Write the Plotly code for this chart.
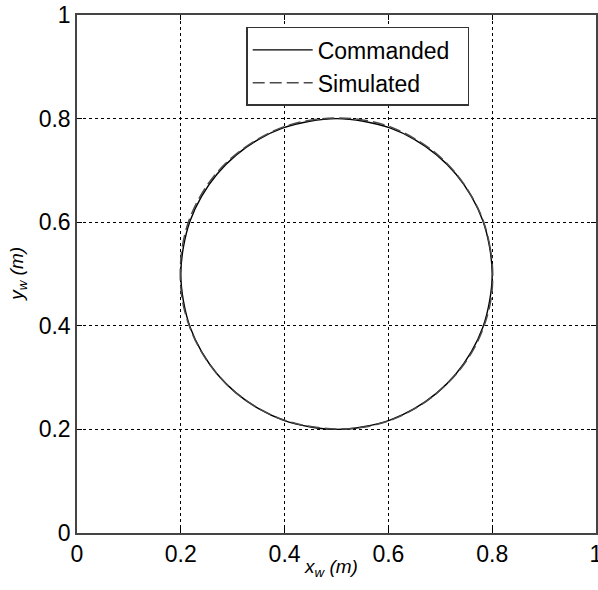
import plotly.graph_objects as go

# Commanded end-effector path (circle of radius 0.3 m centred at 0.5, 0.5), sampled every 10 deg
cmd_x = [0.800, 0.795, 0.782, 0.760, 0.730, 0.693, 0.650, 0.603, 0.552, 0.500,
         0.448, 0.397, 0.350, 0.307, 0.270, 0.240, 0.218, 0.205, 0.200, 0.205,
         0.218, 0.240, 0.270, 0.307, 0.350, 0.397, 0.448, 0.500, 0.552, 0.603,
         0.650, 0.693, 0.730, 0.760, 0.782, 0.795, 0.800]
cmd_y = [0.500, 0.552, 0.603, 0.650, 0.693, 0.730, 0.760, 0.782, 0.795, 0.800,
         0.795, 0.782, 0.760, 0.730, 0.693, 0.650, 0.603, 0.552, 0.500, 0.448,
         0.397, 0.350, 0.307, 0.270, 0.240, 0.218, 0.205, 0.200, 0.205, 0.218,
         0.240, 0.270, 0.307, 0.350, 0.397, 0.448, 0.500]

# Simulated end-effector path
sim_x = [0.801, 0.796, 0.783, 0.761, 0.731, 0.694, 0.651, 0.604, 0.553, 0.501,
         0.449, 0.398, 0.351, 0.306, 0.268, 0.238, 0.216, 0.203, 0.199, 0.203,
         0.217, 0.239, 0.269, 0.306, 0.349, 0.396, 0.447, 0.499, 0.551, 0.602,
         0.649, 0.692, 0.730, 0.761, 0.783, 0.797, 0.801]
sim_y = [0.500, 0.551, 0.602, 0.649, 0.693, 0.731, 0.761, 0.784, 0.797, 0.801,
         0.797, 0.784, 0.762, 0.731, 0.694, 0.651, 0.604, 0.553, 0.501, 0.449,
         0.398, 0.351, 0.308, 0.271, 0.241, 0.219, 0.206, 0.201, 0.204, 0.217,
         0.239, 0.269, 0.306, 0.349, 0.396, 0.447, 0.500]

tick_vals = [0, 0.2, 0.4, 0.6, 0.8, 1]
tick_text = ["0", "0.2", "0.4", "0.6", "0.8", "1"]

FONT = "Arial, Liberation Sans, sans-serif"

fig = go.Figure()
fig.add_trace(go.Scatter(
    x=cmd_x, y=cmd_y, mode="lines", name="Commanded&nbsp;&nbsp;",
    line=dict(color="black", width=1.4, shape="spline"),
))
fig.add_trace(go.Scatter(
    x=sim_x, y=sim_y, mode="lines", name="Simulated",
    line=dict(color="#4a4a4a", width=1.5, dash="12px,5px", shape="spline"),
))

axis_common = dict(
    range=[0, 1],
    tickmode="array",
    tickvals=tick_vals,
    ticktext=tick_text,
    showgrid=True,
    gridcolor="black",
    gridwidth=1,
    griddash="3px,3px",
    zeroline=False,
    showline=True,
    linecolor="#444444",
    linewidth=1.5,
    mirror="ticks",
    ticks="inside",
    ticklen=5,
    tickcolor="black",
    automargin=False,
    ticklabeloverflow="allow",
    tickfont=dict(family=FONT, size=23, color="black"),
)

title_font = dict(family=FONT, size=19, color="black")

fig.update_layout(
    width=598,
    height=590,
    margin=dict(l=77, r=2, t=15, b=57),
    paper_bgcolor="white",
    plot_bgcolor="white",
    font=dict(family=FONT, color="black"),
    xaxis=dict(**axis_common),
    yaxis=dict(**axis_common),
    legend=dict(
        x=0.326, y=0.977, xanchor="left", yanchor="top",
        bgcolor="white",
        bordercolor="#333333",
        borderwidth=1.5,
        font=dict(family=FONT, size=23, color="black"),
        itemwidth=60,
        tracegroupgap=0,
    ),
    showlegend=True,
    annotations=[
        dict(text="<i>x<sub>w</sub> (m)</i>", xref="paper", yref="paper",
             x=0.49, y=-0.068, xanchor="center", yanchor="middle",
             showarrow=False, font=title_font),
        dict(text="<i>y<sub>w</sub> (m)</i>", xref="paper", yref="paper",
             x=-0.114, y=0.5, xanchor="center", yanchor="middle",
             textangle=-90, showarrow=False, font=title_font),
    ],
)

fig.write_html("out.html")
